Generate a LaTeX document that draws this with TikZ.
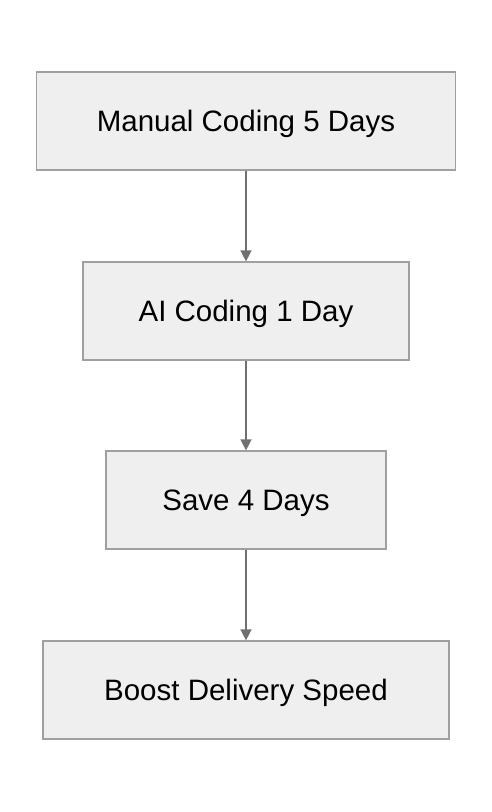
\documentclass[tikz,border=0pt]{standalone}
\usepackage{fontspec}
\setmainfont{Liberation Sans}
\definecolor{boxfill}{HTML}{EFEFEF}
\definecolor{boxline}{HTML}{A0A0A0}
\definecolor{arrowline}{HTML}{707070}
\tikzset{
  stepbox/.style={draw=boxline, fill=boxfill, line width=1.2pt, minimum height=98pt, inner sep=0pt, text height=20.8pt, text depth=0pt, font=\fontsize{29.5}{34}\selectfont},
  flow/.style={-{Triangle[length=11pt,width=11pt]}, draw=arrowline, line width=1.4pt, fill=arrowline}
}
\usetikzlibrary{arrows.meta}
\begin{document}
\begin{tikzpicture}[x=1pt,y=-1pt]
    \useasboundingbox (0,0) rectangle (492,812);

    % steps
    \node[stepbox, minimum width=419pt] (manual) at (246,121) {Manual Coding 5 Days};
    \node[stepbox, minimum width=326pt] (ai) at (246,311) {AI Coding 1 Day};
    \node[stepbox, minimum width=280pt] (save) at (246,500) {Save 4 Days};
    \node[stepbox, minimum width=406pt] (boost) at (246,690) {Boost Delivery Speed};

    % arrows
    \draw[flow] (manual) -- (ai);
    \draw[flow] (ai) -- (save);
    \draw[flow] (save) -- (boost);
  \end{tikzpicture}
\end{document}
